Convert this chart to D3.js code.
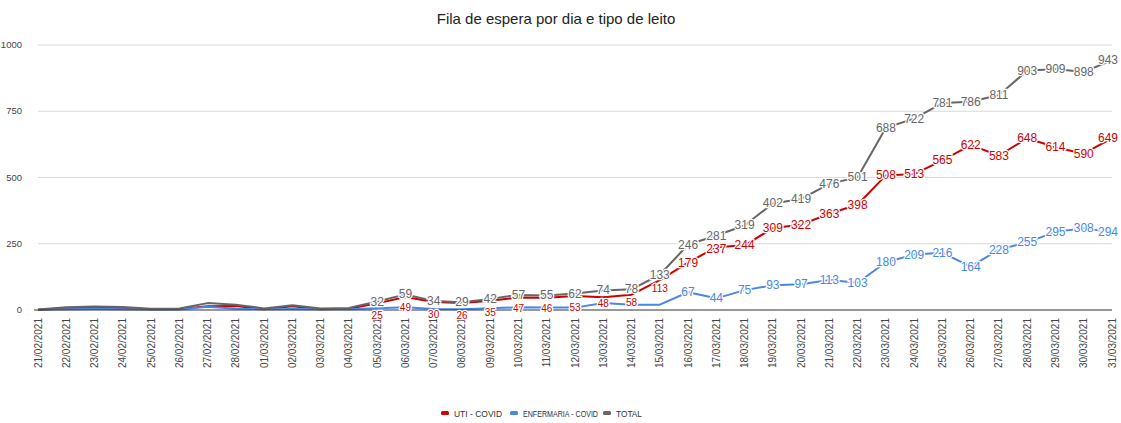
<!DOCTYPE html>
<html>
<head>
<meta charset="utf-8">
<script src="https://cdn.jsdelivr.net/npm/d3@7.9.0/dist/d3.min.js"></script>
<style>
  body { margin: 0; background: #fff; }
  svg { font-family: "Liberation Sans", Arial, sans-serif; }
</style>
</head>
<body>
<svg id="chart" width="1121" height="423"></svg>
<script>
const dates = [
  '21/02/2021','22/02/2021','23/02/2021','24/02/2021','25/02/2021','26/02/2021','27/02/2021','28/02/2021',
  '01/03/2021','02/03/2021','03/03/2021','04/03/2021','05/03/2021','06/03/2021','07/03/2021','08/03/2021',
  '09/03/2021','10/03/2021','11/03/2021','12/03/2021','13/03/2021','14/03/2021','15/03/2021','16/03/2021',
  '17/03/2021','18/03/2021','19/03/2021','20/03/2021','21/03/2021','22/03/2021','23/03/2021','24/03/2021',
  '25/03/2021','26/03/2021','27/03/2021','28/03/2021','29/03/2021','30/03/2021','31/03/2021'
];

const uti = [1, 7, 9, 8, 3, 4, 14, 15, 3, 14, 3, 5, 25, 49, 30, 26, 35, 47, 46, 53, 48, 58, 113, 179,
  237, 244, 309, 322, 363, 398, 508, 513, 565, 622, 583, 648, 614, 590, 649];
const enfermaria = [1, 3, 4, 3, 2, 2, 12, 5, 3, 4, 3, 3, 7, 10, 4, 3, 7, 10, 9, 9, 26, 20, 20, 67,
  44, 75, 93, 97, 113, 103, 180, 209, 216, 164, 228, 255, 295, 308, 294];
const total = [2, 10, 13, 11, 5, 6, 26, 20, 6, 18, 6, 8, 32, 59, 34, 29, 42, 57, 55, 62, 74, 78, 133, 246,
  281, 319, 402, 419, 476, 501, 688, 722, 781, 786, 811, 903, 909, 898, 943];

const yTicks = [0, 250, 500, 750, 1000];

// first index with a visible label, per series
const series = [
  { name: 'UTI - COVID', values: uti, color: '#cc0000', labelFrom: 12 },
  { name: 'ENFERMARIA - COVID', values: enfermaria, color: '#4a86e8', labelFrom: 23 },
  { name: 'TOTAL', values: total, color: '#666666', labelFrom: 12 }
];

const svg = d3.select('#chart');
const margin = { left: 38, right: 9, top: 45, bottom: 113 };
const W = 1121, H = 423;

const x = d3.scalePoint().domain(dates).range([margin.left, W - margin.right]);
const y = d3.scaleLinear().domain([0, 1000]).range([H - margin.bottom, margin.top]);

svg.append('text')
  .attr('x', 556).attr('y', 24)
  .attr('text-anchor', 'middle')
  .attr('font-size', 15)
  .attr('fill', '#222')
  .text('Fila de espera por dia e tipo de leito');

// grid
svg.append('g').selectAll('line')
  .data(yTicks.filter(d => d > 0))
  .join('line')
  .attr('x1', margin.left).attr('x2', W - margin.right)
  .attr('y1', d => y(d)).attr('y2', d => y(d))
  .attr('stroke', '#d9d9d9');

svg.append('g').selectAll('text')
  .data(yTicks)
  .join('text')
  .attr('x', 22).attr('y', d => y(d) + 3)
  .attr('text-anchor', 'end')
  .attr('font-size', 9.5)
  .attr('fill', '#444')
  .text(d => d);

// x labels
svg.append('g').selectAll('text')
  .data(dates)
  .join('text')
  .attr('transform', d => `translate(${x(d) + 3.5},318) rotate(-90)`)
  .attr('text-anchor', 'end')
  .attr('font-size', 10)
  .attr('fill', '#444')
  .text(d => d);

const line = d3.line().x((d, i) => x(dates[i])).y(d => y(d));

series.forEach(s => {
  svg.append('path')
    .datum(s.values)
    .attr('d', line)
    .attr('fill', 'none')
    .attr('stroke', s.color)
    .attr('stroke-width', 2)
    .attr('stroke-linejoin', 'round');
});

// baseline
svg.append('line')
  .attr('x1', margin.left - 4).attr('x2', W - margin.right)
  .attr('y1', y(0)).attr('y2', y(0))
  .attr('stroke', '#333');

// label y position; red labels that crowd the total label get nudged below it
const gap = 13;
function labelY(s, i) {
  const py = y(s.values[i]) + 4;
  if (s.values === uti) {
    const ty = y(total[i]) + 4;
    if (py - ty < gap) return ty + gap;
  }
  return py;
}

const last = dates.length - 1;
series.forEach(s => {
  const small = i => s.values === uti && y(s.values[i]) - y(total[i]) < 11;
  svg.append('g').selectAll('text')
    .data(s.values.map((v, i) => ({ v, i })).filter(d => d.i >= s.labelFrom))
    .join('text')
    .attr('x', d => d.i === last ? W - 3 : x(dates[d.i]))
    .attr('y', d => labelY(s, d.i))
    .attr('text-anchor', d => d.i === last ? 'end' : 'middle')
    .attr('font-size', d => small(d.i) ? 10 : 12)
    .attr('fill', s.color)
    .attr('stroke', '#fff')
    .attr('stroke-width', 2.5)
    .attr('paint-order', 'stroke')
    .text(d => d.v);
});

// legend
const legendX = [441, 510, 603];
const legendW = [48, 75, 26];
const lg = svg.append('g').selectAll('g')
  .data(series)
  .join('g')
  .attr('transform', (d, i) => `translate(${legendX[i]},413)`);
lg.append('rect')
  .attr('x', 0).attr('y', -2).attr('width', 8).attr('height', 4)
  .attr('rx', 1.5)
  .attr('fill', d => d.color);
lg.append('text')
  .attr('x', 13).attr('y', 3.5)
  .attr('font-size', 9)
  .attr('fill', '#333')
  .attr('textLength', (d, i) => legendW[i])
  .attr('lengthAdjust', 'spacingAndGlyphs')
  .text(d => d.name);
</script>
</body>
</html>
